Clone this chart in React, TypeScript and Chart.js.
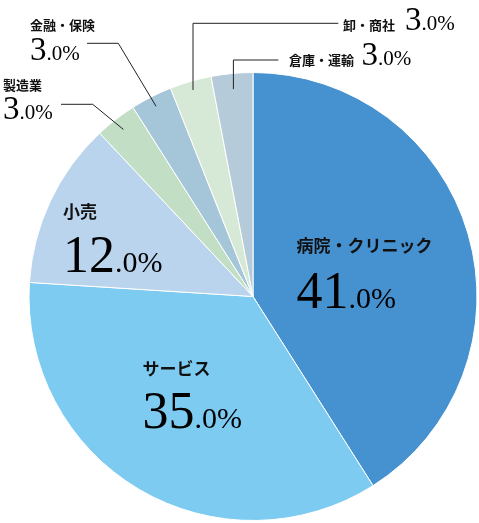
import React, { useEffect, useRef } from "react";
import { Chart, registerables } from "chart.js";

Chart.register(...registerables);

// ---- data ----
const categories = ["病院・クリニック", "サービス", "小売", "製造業", "金融・保険", "卸・商社", "倉庫・運輸"];
const shares = [41.0, 35.0, 12.0, 3.0, 3.0, 3.0, 3.0];

// ---- styles / layout (not data) ----
const sliceColors = ["#4691cf", "#7ecbf2", "#bad4ee", "#c2dfc5", "#a5c5d9", "#d6e9d7", "#b6cbd9"];
const W = 479;
const H = 523;
type LabelLayout = {
  x: number;
  y: number;
  size: "big" | "small";
  mode: "below" | "right";
  num: number;
  leader?: { k: number; vertical: boolean; elbow: number[]; endX: number };
};
const labelLayout: LabelLayout[] = [
  { x: 296.5, y: 252, size: "big", mode: "below", num: 308 },
  { x: 142.5, y: 375, size: "big", mode: "below", num: 428 },
  { x: 63, y: 218, size: "big", mode: "below", num: 272 },
  { x: 3, y: 89.5, size: "small", mode: "below", num: 118.5, leader: { k: 0.944, vertical: false, elbow: [92.7, 104.3], endX: 61 } },
  { x: 30, y: 29.5, size: "small", mode: "below", num: 59.5, leader: { k: 0.953, vertical: false, elbow: [118.3, 43.3], endX: 87 } },
  { x: 343, y: 29.5, size: "small", mode: "right", num: 405, leader: { k: 0.96, vertical: true, elbow: [0, 23.3], endX: 338.3 } },
  { x: 289, y: 64.5, size: "small", mode: "right", num: 361.5, leader: { k: 0.93, vertical: true, elbow: [0, 60], endX: 278.3 } },
];

const labelPlugin = {
  id: "sliceLabels",
  afterDatasetsDraw(chart: any) {
    const ctx: CanvasRenderingContext2D = chart.ctx;
    const meta = chart.getDatasetMeta(0);
    const values: number[] = chart.data.datasets[0].data;
    const labels: string[] = chart.data.labels;
    ctx.save();
    meta.data.forEach((arc: any, i: number) => {
      const L = labelLayout[i];
      if (!L) return;
      const p = arc.getProps(["x", "y", "startAngle", "endAngle", "outerRadius"], true);
      const mid = (p.startAngle + p.endAngle) / 2;
      if (L.leader) {
        const sx = p.x + Math.cos(mid) * p.outerRadius * L.leader.k;
        const sy = p.y + Math.sin(mid) * p.outerRadius * L.leader.k;
        const ex = L.leader.vertical ? sx : L.leader.elbow[0];
        const ey = L.leader.elbow[1];
        ctx.beginPath();
        ctx.moveTo(sx, sy);
        ctx.lineTo(ex, ey);
        ctx.lineTo(L.leader.endX, ey);
        ctx.strokeStyle = "#222";
        ctx.lineWidth = 1;
        ctx.stroke();
      }
      const big = L.size === "big";
      ctx.fillStyle = "#111";
      ctx.textBaseline = "alphabetic";
      ctx.textAlign = "left";
      ctx.font = big ? 'bold 17px "Noto Sans CJK JP"' : 'bold 13px "Noto Sans CJK JP"';
      ctx.fillText(labels[i], L.x, L.y);
      const txt = values[i].toFixed(1) + "%";
      const dot = txt.indexOf(".");
      const intPart = txt.slice(0, dot);
      const rest = txt.slice(dot);
      let nx = L.mode === "below" ? L.x : L.num;
      const ny = L.mode === "below" ? L.num : L.y + 0.5;
      ctx.fillStyle = "#000";
      ctx.font = big ? '52px "Liberation Serif"' : '33px "Liberation Serif"';
      ctx.fillText(intPart, nx, ny);
      nx += ctx.measureText(intPart).width;
      ctx.font = big ? '30px "Liberation Serif"' : '21px "Liberation Serif"';
      ctx.fillText(rest, nx, ny);
    });
    ctx.restore();
  },
};

export default function App() {
  const ref = useRef<HTMLCanvasElement>(null);
  useEffect(() => {
    if (!ref.current) return;
    const chart = new Chart(ref.current, {
      type: "pie",
      data: {
        labels: categories,
        datasets: [
          {
            data: shares,
            backgroundColor: sliceColors,
            borderColor: "#ffffff",
            borderWidth: 1,
          },
        ],
      },
      options: {
        responsive: false,
        animation: false,
        layout: { padding: { left: 28.5, right: 1.5, top: 72, bottom: 2 } },
        plugins: {
          legend: { display: false },
          tooltip: { enabled: false },
        },
      },
      plugins: [labelPlugin],
    });
    return () => chart.destroy();
  }, []);
  return (
    <div style={{ position: "fixed", left: 0, top: 0, width: W, height: H, background: "#fff" }}>
      <canvas ref={ref} width={W} height={H} style={{ width: W, height: H, display: "block" }} />
    </div>
  );
}
